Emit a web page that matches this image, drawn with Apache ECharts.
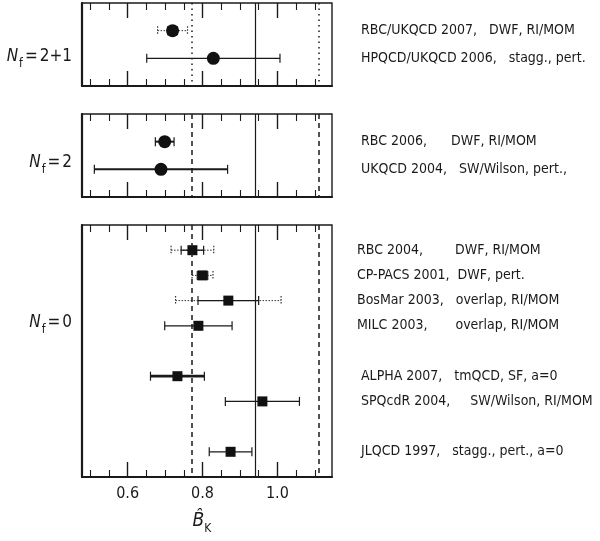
<!DOCTYPE html>
<html><head><meta charset="utf-8">
<script src="https://cdn.jsdelivr.net/npm/echarts@6/dist/echarts.min.js"></script>
<style>html,body{margin:0;padding:0;background:#fff}#c{width:600px;height:541px}</style>
</head><body><div id="c"></div>
<script>
const FONT = "'DejaVu Sans Condensed', Roboto, sans-serif";
const INK = '#1a1a1a';

// ---- data ----
const flavourLabels = ['2+1', '2', '0'];

const labelsNf21 = ['RBC/UKQCD 2007,   DWF, RI/MOM', 'HPQCD/UKQCD 2006,   stagg., pert.'];
const valuesNf21 = [0.720, 0.829];
const statNf21   = [0.013, 0.178];
const totalNf21  = [0.040, null];

const labelsNf2 = ['RBC 2006,      DWF, RI/MOM', 'UKQCD 2004,   SW/Wilson, pert.,'];
const valuesNf2 = [0.699, 0.689];
const statNf2   = [0.025, 0.178];
const totalNf2  = [null, null];

const labelsNf0 = ['RBC 2004,        DWF, RI/MOM', 'CP-PACS 2001,  DWF, pert.', 'BosMar 2003,   overlap, RI/MOM',
  'MILC 2003,       overlap, RI/MOM', 'ALPHA 2007,   tmQCD, SF, a=0', 'SPQcdR 2004,     SW/Wilson, RI/MOM',
  'JLQCD 1997,   stagg., pert., a=0'];
const valuesNf0 = [0.773, 0.800, 0.869, 0.789, 0.733, 0.960, 0.875];
const statNf0   = [0.030, 0.014, 0.081, 0.090, 0.072, 0.099, 0.057];
const totalNf0  = [0.057, 0.028, 0.141, null, null, null, null];

// row slots of each panel (blank strings are spacer rows)
const rowsNf21 = ['', labelsNf21[0], labelsNf21[1], ' '];
const rowsNf2  = ['', labelsNf2[0], labelsNf2[1], ' '];
const rowsNf0  = ['', labelsNf0[0], labelsNf0[1], labelsNf0[2], labelsNf0[3], ' ', labelsNf0[4], labelsNf0[5], '  ', labelsNf0[6], '   '];

const refCentral = 0.94;
const refBand = [0.77, 1.11];
const majorTicks = [0.6, 0.8, 1.0];
const minorTicks = [0.5, 0.55, 0.65, 0.7, 0.75, 0.85, 0.9, 0.95, 1.05, 1.1];
const xMin = 0.478, xMax = 1.146;

// ---- styles ----
const panels = [
  {rows: rowsNf21, labels: labelsNf21, vals: valuesNf21, stat: statNf21, tot: totalNf21,
   grid: {left: 82, top: 3, width: 250, height: 83}, symbol: 'circle', size: 13, refType: [1.5, 4], widths: [1.2, 1.1], labelY: 57, labelMargin: 29},
  {rows: rowsNf2, labels: labelsNf2, vals: valuesNf2, stat: statNf2, tot: totalNf2,
   grid: {left: 82, top: 114, width: 250, height: 83}, symbol: 'circle', size: 13, refType: [5, 4], widths: [2, 2], labelY: 163, labelMargin: 29},
  {rows: rowsNf0, labels: labelsNf0, vals: valuesNf0, stat: statNf0, tot: totalNf0,
   grid: {left: 82, top: 225, width: 250, height: 252}, symbol: 'rect', size: 10, refType: [5, 4], widths: [1.3, 1.3, 1.3, 1.3, 2.8, 1.3, 1.3], labelY: 323, labelMargin: 25}
];
// the last three N_f = 0 labels sit slightly further right
const labelShift = {4: 4, 5: 4, 6: 4};

const grids = [], xAxes = [], yAxes = [], series = [], graphics = [];

panels.forEach((p, gi) => {
  grids.push(Object.assign({show: true, borderColor: INK, borderWidth: 1.4, backgroundColor: 'transparent',
    containLabel: false, outerBoundsMode: 'none'}, p.grid));
  const isLast = gi === panels.length - 1;
  const base = {type: 'value', gridIndex: gi, min: xMin, max: xMax, splitLine: {show: false}, axisLabel: {show: false}};
  xAxes.push(Object.assign({}, base, {position: 'bottom',
    axisLine: {show: true, onZero: false, lineStyle: {color: INK, width: 2.2}},
    axisTick: {show: true, inside: true, length: 15, customValues: majorTicks, lineStyle: {color: INK, width: 1.4}},
    axisLabel: {show: isLast, customValues: majorTicks, margin: 9, fontSize: 16, fontFamily: FONT, color: INK,
      formatter: v => v.toFixed(1)}}));
  xAxes.push(Object.assign({}, base, {position: 'bottom', axisLine: {show: false},
    axisTick: {show: true, inside: true, length: 7, customValues: minorTicks, lineStyle: {color: INK, width: 1.1}}}));
  xAxes.push(Object.assign({}, base, {position: 'top', axisLine: {show: false},
    axisTick: {show: true, inside: true, length: 15, customValues: majorTicks, lineStyle: {color: INK, width: 1.4}}}));
  xAxes.push(Object.assign({}, base, {position: 'top', axisLine: {show: false},
    axisTick: {show: true, inside: true, length: 7, customValues: minorTicks, lineStyle: {color: INK, width: 1.1}}}));

  const shifted = gi === 2 ? new Set(Object.keys(labelShift).map(k => p.labels[k])) : new Set();
  yAxes.push({type: 'category', gridIndex: gi, data: p.rows, inverse: true, boundaryGap: false, position: 'right',
    axisLine: {show: false}, axisTick: {show: false}, splitLine: {show: false},
    axisLabel: {interval: 0, margin: p.labelMargin, align: 'left', fontSize: 14, fontFamily: FONT, color: INK,
      formatter: v => shifted.has(v) ? '{s|' + v + '}' : v,
      rich: {s: {fontSize: 14, fontFamily: FONT, color: INK, padding: [0, 0, 0, 4]}}}});
  yAxes.push({type: 'category', gridIndex: gi, data: p.rows, inverse: true, boundaryGap: false, position: 'left',
    axisLine: {show: true, lineStyle: {color: INK, width: 2.2}}, axisTick: {show: false}, axisLabel: {show: false}, splitLine: {show: false}});

  const xi = gi * 4, yi = gi * 2;
  const errData = p.labels.map((l, i) => [p.vals[i], p.stat[i], p.tot[i] == null ? 0 : p.tot[i], p.rows.indexOf(l)]);
  const ptData = p.labels.map((l, i) => [p.vals[i], p.rows.indexOf(l)]);

  series.push({
    type: 'scatter', xAxisIndex: xi, yAxisIndex: yi, data: [], silent: true, z: 1,
    markLine: {silent: true, symbol: 'none', label: {show: false}, animation: false,
      data: [
        {xAxis: refCentral, lineStyle: {type: 'solid', color: INK, width: 1.2}},
        {xAxis: refBand[0], lineStyle: {type: p.refType, color: INK, width: 1.5}},
        {xAxis: refBand[1], lineStyle: {type: p.refType, color: INK, width: 1.5}}
      ]}
  });
  series.push({
    type: 'custom', xAxisIndex: xi, yAxisIndex: yi, data: errData, z: 3, silent: true,
    encode: {x: 0, y: 3},
    renderItem: (params, api) => {
      const i = params.dataIndex;
      const v = api.value(0), s = api.value(1), t = api.value(2), r = api.value(3);
      const ch = [];
      const cap = 4.5;
      const seg = (x1, x2, style) => {
        const a = api.coord([x1, r]), b = api.coord([x2, r]);
        ch.push({type: 'line', shape: {x1: a[0], y1: a[1], x2: b[0], y2: b[1]}, style});
        ch.push({type: 'line', shape: {x1: a[0], y1: a[1] - cap, x2: a[0], y2: a[1] + cap}, style: Object.assign({}, style, {lineWidth: 1.2})});
        ch.push({type: 'line', shape: {x1: b[0], y1: b[1] - cap, x2: b[0], y2: b[1] + cap}, style: Object.assign({}, style, {lineWidth: 1.2})});
      };
      if (t > 0) seg(v - t, v + t, {stroke: '#333', lineWidth: 1, lineDash: [1.5, 1.5]});
      seg(v - s, v + s, {stroke: INK, lineWidth: p.widths[i]});
      return {type: 'group', children: ch};
    }
  });
  series.push({
    type: 'scatter', xAxisIndex: xi, yAxisIndex: yi, data: ptData, symbol: p.symbol, symbolSize: p.size,
    itemStyle: {color: '#111', opacity: 1}, z: 4, silent: true
  });

  graphics.push({type: 'text', x: 72, y: p.labelY,
    style: {text: '{n|N}{f|f}{q|=}{e|' + flavourLabels[gi] + '}', align: 'right', verticalAlign: 'middle',
      rich: {
        n: {fontSize: 17, fontStyle: 'italic', fontFamily: FONT, fill: INK, lineHeight: 26, verticalAlign: 'middle'},
        f: {fontSize: 12, fontFamily: FONT, fill: INK, lineHeight: 26, verticalAlign: 'bottom', padding: [0, 0, 0, 1]},
        q: {fontSize: 17, fontFamily: FONT, fill: INK, lineHeight: 26, verticalAlign: 'middle', padding: [0, 2, 0, 2]},
        e: {fontSize: 17, fontFamily: FONT, fill: INK, lineHeight: 26, verticalAlign: 'middle'}
      }}});
});

graphics.push({type: 'text', x: 202, y: 521,
  style: {text: '{b|B\u0302}{k|K}', align: 'center', verticalAlign: 'middle',
    rich: {
      b: {fontSize: 19, fontStyle: 'italic', fontFamily: FONT, fill: INK, lineHeight: 28, verticalAlign: 'middle'},
      k: {fontSize: 12, fontFamily: FONT, fill: INK, lineHeight: 28, verticalAlign: 'bottom'}
    }}});

const chart = echarts.init(document.getElementById('c'), null, {renderer: 'canvas'});
chart.setOption({
  animation: false,
  backgroundColor: '#fff',
  grid: grids, xAxis: xAxes, yAxis: yAxes, series: series, graphic: graphics
});
</script></body></html>
